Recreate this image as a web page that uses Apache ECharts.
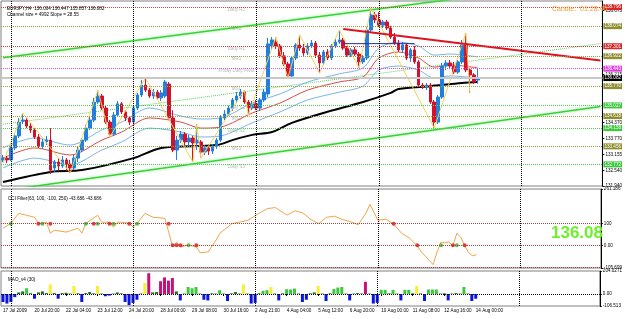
<!DOCTYPE html>
<html>
<head>
<meta charset="utf-8">
<script src="https://cdn.jsdelivr.net/npm/echarts@6/dist/echarts.min.js"></script>
</head>
<body style="margin:0;background-color:#fff">
<div id="main" style="width:625px;height:319px;"></div>
<script type="text/javascript">
// EURJPY H4 candles: [open, close, low, high]
var candles = [
 [132.94,133.01,132.86,133.13],[133.01,132.94,132.82,133.09],[132.94,133.40,132.90,133.47],[133.40,133.86,133.32,133.97],
 [133.86,134.39,133.78,134.55],[134.43,134.47,134.32,134.74],[134.47,134.24,134.16,134.55],[134.24,134.09,133.97,134.36],
 [134.09,133.82,133.74,134.16],[133.82,133.47,133.40,133.93],[133.47,133.63,133.36,133.74],[133.63,133.70,133.51,133.86],
 [133.70,132.55,132.40,134.16],[132.63,132.86,132.48,132.94],[132.86,132.71,132.55,133.01],[132.71,132.94,132.63,133.09],
 [132.94,132.78,132.52,133.01],[132.78,132.63,132.44,132.94],[132.63,133.01,132.55,133.13],[133.01,133.32,132.86,133.44],
 [133.32,133.70,133.24,133.78],[133.70,134.16,133.63,134.28],[134.16,134.47,134.09,134.59],[134.47,135.16,134.39,135.32],
 [135.16,135.39,135.09,135.62],[135.39,134.93,134.85,135.47],[134.93,134.39,134.32,135.01],[134.39,133.93,133.82,134.47],
 [133.93,134.66,133.86,134.78],[134.66,135.09,134.59,135.20],[135.09,134.78,134.70,135.16],[134.78,134.55,134.43,134.85],
 [134.55,134.39,134.28,134.62],[134.39,134.93,134.32,135.01],[134.93,135.43,134.85,135.51],[135.43,135.81,135.35,136.01],
 [135.81,135.62,135.54,136.08],[135.62,135.39,135.32,135.70],[135.39,135.54,135.28,135.66],[135.54,135.32,135.24,135.62],
 [135.32,135.51,135.20,135.62],[135.39,135.93,135.32,136.01],[135.85,134.55,134.47,135.93],[134.55,133.32,133.24,134.85],
 [133.32,133.70,132.94,133.86],[133.70,133.93,133.59,134.05],[133.93,133.63,133.51,134.01],[133.63,133.78,133.47,133.90],
 [133.78,133.59,132.86,133.86],[133.59,133.70,133.32,134.32],[133.63,133.24,133.01,133.70],[133.24,133.40,133.13,133.51],
 [133.40,133.28,133.13,133.47],[133.28,133.47,133.17,133.55],[133.47,133.70,133.36,133.78],[133.70,134.55,133.63,134.66],
 [134.55,134.70,134.47,134.85],[134.70,134.93,134.62,135.01],[134.93,135.24,134.82,135.32],[135.24,135.39,135.12,135.55],
 [135.39,135.54,135.28,135.66],[135.54,135.16,135.09,135.62],[135.16,134.93,134.66,135.24],[134.93,135.09,134.85,135.20],
 [135.09,134.93,134.85,135.24],[134.93,135.24,134.82,135.32],[135.24,135.54,135.16,135.66],[135.47,137.39,135.35,137.62],
 [137.31,137.54,137.16,137.65],[137.46,137.31,137.19,137.65],[137.31,136.93,136.85,137.39],[136.93,136.62,136.54,137.08],
 [136.62,136.16,136.08,136.70],[136.16,136.85,136.08,136.93],[136.85,137.35,136.77,137.42],[137.35,137.23,137.12,137.73],
 [137.23,137.04,136.93,137.39],[137.04,137.31,136.96,137.42],[137.31,137.42,137.23,137.54],[137.42,136.96,136.85,137.50],
 [136.96,136.66,136.27,137.08],[136.66,137.08,136.58,137.16],[137.08,136.85,136.77,137.19],[136.85,137.31,136.77,137.39],
 [137.31,137.46,137.23,137.58],[137.46,137.54,137.39,137.92],[137.54,137.23,137.16,137.62],[137.23,136.96,136.89,137.31],
 [136.96,137.16,136.89,137.23],[137.16,137.00,136.93,137.27],[137.00,136.70,136.47,137.08],[136.70,136.85,136.62,136.96],
 [136.85,137.92,136.77,138.04],[137.92,138.50,137.85,138.77],[138.50,138.31,138.19,138.61],[138.31,138.11,138.04,138.61],
 [138.11,138.23,138.00,138.31],[138.23,138.00,137.92,138.31],[138.00,137.65,137.58,138.08],[137.65,137.42,137.35,137.81],
 [137.42,137.16,137.08,137.54],[137.16,137.35,137.04,137.46],[137.35,136.85,136.77,137.42],[136.85,137.16,136.70,137.23],
 [137.16,136.70,136.62,137.31],[136.70,135.81,135.74,136.77],[135.81,135.74,135.66,135.89],[135.74,135.81,135.62,135.89],
 [135.81,135.16,135.09,135.89],[135.16,134.39,134.16,135.24],[134.39,135.35,134.32,135.43],[135.35,136.54,135.28,136.66],
 [136.54,136.66,136.39,136.77],[136.66,136.54,136.47,136.77],[136.54,136.31,136.24,136.70],[136.31,136.70,136.24,136.77],
 [136.70,137.35,136.62,137.54],[137.35,136.39,136.31,137.81],[136.39,136.20,135.51,136.47],[136.20,135.93,135.85,136.27],
 [136.004,136.082,135.857,136.447]
];
var totalSlots = 152;

// moving averages read at sample bars
var maBars = [0,8,17,25,30,37,45,50,55,63,70,77,85,91,95,100,105,109,113,120];
var maRed = [133.01,133.40,133.13,133.70,134.01,134.55,134.39,134.16,134.20,134.74,135.12,135.62,135.93,136.12,136.85,137.08,136.85,136.50,136.58,136.47];
var maBlueUp = [133.40,133.78,133.51,134.09,134.39,134.93,134.62,134.51,134.55,135.12,135.47,135.93,136.24,136.47,137.23,137.46,137.31,136.96,137.00,136.89];
var maBlueDn = [132.63,133.01,132.75,133.32,133.63,134.16,134.01,133.82,133.86,134.36,134.78,135.24,135.54,135.77,136.39,136.54,136.39,136.08,136.16,136.08];
var maSlowBars = [0,12,20,33,40,54,58,63,68,73,81,91,98,100,108,116,120];
var maSlow = [132.09,132.48,132.55,133.01,133.40,133.51,133.70,133.90,134.01,134.36,134.74,135.16,135.51,135.66,135.77,135.89,135.93];

// zigzag pivots
var zzBars = [0,5,17,24,27,36,48,49,50,61,62,69,72,75,80,85,90,93,109,117,118];
var zzVals = [132.82,134.74,132.44,135.62,133.82,136.08,132.86,134.32,133.01,135.62,134.66,137.65,136.08,137.73,136.27,137.92,136.47,138.77,134.16,137.81,135.51];

// channel and trend lines (end points)
var chanUpper = [[0,136.86],[151,139.84]];
var chanLower = [[0,131.76],[151,134.99]];
var chanMid = [[0,134.31],[151,137.40]];
var trendRed = [[86,137.96],[151,136.75]];
var navyLine = [[86,137.40],[104,137.40]];

// pivot levels
var levelNames = ['Daily R2','MR2','Daily R1','MR1','Friday Daily Pivot','MS1','Daily S1','MS2','Daily S2','MS3','Daily S3'];
var levelValues = [138.796,138.074,137.301,136.922,136.443,135.770,135.027,134.618,134.158,133.456,132.772];
var levelKinds = ['res','mid','res','mid','pivot','mid','sup','mid','sup','mid','sup'];
var bidPrice = 136.082;
var priceTicks = [131.94,132.54,133.155,133.77,134.37,136.215,138.675];

// period separators
var sepBars = [2,33,64,95,131];

// time axis labels
var timeTickBars = [0,8,16,24,32,40,48,56,64,72,80,88,96,104,112,120];
var timeTickText = ['17 Jul 2009','20 Jul 20:00','22 Jul 04:00','23 Jul 12:00','24 Jul 20:00','28 Jul 00:00','29 Jul 08:00','30 Jul 16:00','2 Aug 21:00','4 Aug 04:00','5 Aug 12:00','6 Aug 20:00','10 Aug 00:00','11 Aug 08:00','12 Aug 16:00','14 Aug 00:00'];

// CCI filter
var cciBars = [0,2,4,6,8,9,10,11,12,13,16,19,20,21,24,25,27,28,29,30,32,33,34,36,38,41,42,43,44,45,47,49,50,52,54,55,58,62,65,67,69,72,74,76,78,80,82,84,86,88,90,92,93,95,97,99,101,103,105,106,109,110,111,112,113,114,115,116,117,118,119,120];
var cciVals = [79,102,148,139,130,102,102,107,56,70,61,79,56,102,139,107,107,84,107,107,102,84,102,148,130,125,60,-8,15,-8,1,-8,-35,-31,24,56,100,115,150,170,175,140,160,150,120,100,130,135,120,110,95,150,190,116,121,98,56,33,-3,-31,-90,-31,15,11,15,-3,56,38,-3,-35,-49,-44];
var cciRedDots = [[9,100],[12,100],[23,100],[27,100],[32,100],[42,100],[99,100],[43,0],[44,0],[45,0],[49,0],[105,0],[114,0],[117,0]];
var cciGreenDots = [[2,100],[10,100],[21,100],[24,100],[28,100],[34,100],[47,0],[111,0],[115,0]];
var cciLevels = [100,0,-100];
var cciTicks = [261.186,100,0,-105.699];
var cciTickText = ['261.186','100','0.00','-105.699'];

// MAO_v4 histogram
var maoVals = [-71,-85,-71,-28,14,23,51,6,-42,14,23,8,85,8,-42,8,11,4,71,6,-71,8,17,6,71,4,-20,-14,4,14,6,-71,-99,-79,-51,4,99,184,14,17,113,147,119,142,23,-57,4,62,51,62,4,-51,-57,6,4,34,4,-62,6,17,4,85,4,-85,-79,6,28,34,62,4,-57,6,42,40,48,4,-71,-51,6,14,71,4,-62,6,45,57,62,4,-57,4,8,4,108,4,-85,-79,37,37,6,37,4,-57,37,37,6,71,4,-62,40,40,40,4,6,-57,4,8,4,62,4,-62,-42];
var maoState = [];
var maoYellow = [12,18,24,36,61,68,80,105];
var maoMagenta = [37,40,41,42,43,92];
var maoTicks = [204.0271,0,-106.513];
var maoTickText = ['204.0271','0.00','-106.513'];

var myChart = echarts.init(document.getElementById('main'));

var stateColor = {neg:'#0a14e6', pos:'#3cc83c', weak:'#1f6e1f', yel:'#f5f032', mag:'#c8107a'};
for (var i = 0; i < maoVals.length; i++) {
  var s = maoVals[i] < 0 ? 'neg' : (maoVals[i] < 25 ? 'weak' : 'pos');
  if (maoYellow.indexOf(i) >= 0) s = 'yel';
  if (maoMagenta.indexOf(i) >= 0) s = 'mag';
  maoState.push(s);
}
var kindColor = {res:'#d42a2a', mid:'#8f8f32', pivot:'#e040e0', sup:'#3cc83c'};
var kindLine = {res:'#d04040', mid:'#a0a040', pivot:'#e050e0', sup:'#50cc50'};

var cats = [];
for (var k = 0; k < totalSlots; k++) cats.push(String(k));

function pairs(bars, vals) {
  var out = [];
  for (var i = 0; i < bars.length; i++) out.push([bars[i], vals[i]]);
  return out;
}
function nearestText(v, ticks, texts) {
  var best = 0;
  for (var i = 1; i < ticks.length; i++) if (Math.abs(ticks[i] - v) < Math.abs(ticks[best] - v)) best = i;
  return texts[best];
}

var smallFont = 4.6;
var fontName = 'Liberation Sans';

var sepLines = sepBars.map(function (b) { return {xAxis: b}; });
var sepStyle = {color:'#000', type:'dotted', width:1};

var levelMarks = levelValues.map(function (v, i) {
  var c = kindColor[levelKinds[i]];
  return {
    yAxis: v,
    lineStyle: {color: kindLine[levelKinds[i]], type: 'dotted', width: 1},
    label: {show: true, position: 'end', distance: 1, formatter: v.toFixed(3),
      backgroundColor: c, color: '#fff', padding: [1, 1, 0, 1], fontSize: smallFont, fontFamily: fontName}
  };
});
levelMarks.push({
  yAxis: bidPrice,
  lineStyle: {color:'#c8c8c8', type:'solid', width:2},
  label: {show: true, position: 'end', distance: 1, formatter: bidPrice.toFixed(3),
    backgroundColor: '#000', color: '#fff', padding: [1, 1, 0, 1], fontSize: smallFont, fontFamily: fontName}
});

function xAx(idx, showLabels) {
  return {
    type: 'category', gridIndex: idx, data: cats, boundaryGap: true,
    axisLine: {show: false},
    axisTick: {show: showLabels, alignWithLabel: true, length: 2, lineStyle: {color:'#000'},
      interval: function (i) { return timeTickBars.indexOf(i) >= 0; }},
    axisLabel: {show: showLabels, align: 'left', margin: 2, fontSize: smallFont, color: '#000', fontFamily: fontName,
      interval: function (i) { return timeTickBars.indexOf(i) >= 0; },
      formatter: function (v) { var j = timeTickBars.indexOf(Number(v)); return j >= 0 ? timeTickText[j] : ''; }},
    splitLine: {show: false}
  };
}
function yAx(idx, mn, mx, ticks, texts) {
  return {
    type: 'value', gridIndex: idx, position: 'right', min: mn, max: mx, scale: true,
    axisLine: {show: true, lineStyle: {color:'#000'}},
    axisTick: {show: true, length: 2, customValues: ticks, lineStyle: {color:'#000'}},
    axisLabel: {show: true, customValues: ticks, margin: 3, fontSize: smallFont, color: '#000', fontFamily: fontName,
      formatter: function (v) { return texts ? nearestText(v, ticks, texts) : Number(v).toFixed(3); }},
    splitLine: {show: false}
  };
}

var option = {
  animation: false,
  backgroundColor: '#fff',
  textStyle: {fontFamily: fontName},
  title: [
    {text: 'EURJPY,H4  136.004 136.447 135.857 136.082', left: 2, top: 1, textStyle: {fontSize: smallFont, fontWeight: 'normal', color: '#000'}},
    {text: 'Channel size = 4992 Slope = 28.55', left: 2, top: 7, textStyle: {fontSize: smallFont, fontWeight: 'normal', color: '#000'}},
    {text: 'Candle:  01:28:40', left: 547, top: 1, textStyle: {fontSize: 7, fontWeight: 'normal', color: '#f0a030'}},
    {text: 'CCI Filter(63, 100, -100, 250) -43.686 -43.686', left: 3, top: 191, textStyle: {fontSize: smallFont, fontWeight: 'normal', color: '#000'}},
    {text: '136.08', left: 546, top: 220, textStyle: {fontSize: 17, fontWeight: 'bold', color: '#6cf02c'}},
    {text: 'MAO_v4 (30)', left: 3, top: 272, textStyle: {fontSize: smallFont, fontWeight: 'normal', color: '#000'}}
  ],
  grid: [
    {left: 1, right: 22, top: 1, height: 185, show: true, borderColor: '#808080', borderWidth: 1, backgroundColor: '#fff'},
    {left: 1, right: 22, top: 189, height: 79, show: true, borderColor: '#808080', borderWidth: 1},
    {left: 1, right: 22, top: 271, height: 35, show: true, borderColor: '#808080', borderWidth: 1}
  ],
  xAxis: [xAx(0, false), xAx(1, false), xAx(2, true)],
  yAxis: [
    yAx(0, 131.94, 139.035, priceTicks, null),
    yAx(1, -105.699, 261.186, cciTicks, cciTickText),
    yAx(2, -106.513, 204.0271, maoTicks, maoTickText)
  ],
  series: [
    {type: 'line', xAxisIndex: 0, yAxisIndex: 0, data: [], z: 1, silent: true,
      markLine: {symbol: ['none', 'none'], silent: true, animation: false, data: levelMarks.concat(sepLines.map(function (d) { return {xAxis: d.xAxis, lineStyle: sepStyle, label: {show: false}}; }))}},
    {type: 'scatter', xAxisIndex: 0, yAxisIndex: 0, symbolSize: 0, z: 1, silent: true,
      data: levelValues.map(function (v, i) { return [59, v, levelNames[i]]; }),
      label: {show: true, position: 'bottom', distance: 0, color: '#a8a8a8', fontSize: smallFont, fontFamily: fontName,
        formatter: function (p) { return p.data[2]; }}},
    {type: 'line', xAxisIndex: 0, yAxisIndex: 0, data: chanUpper, symbol: 'none', z: 2,
      lineStyle: {color: '#36d236', width: 1.5, shadowColor: 'rgba(120,240,120,0.8)', shadowBlur: 3}},
    {type: 'line', xAxisIndex: 0, yAxisIndex: 0, data: chanLower, symbol: 'none', z: 2,
      lineStyle: {color: '#36d236', width: 1.5, shadowColor: 'rgba(120,240,120,0.8)', shadowBlur: 3}},
    {type: 'line', xAxisIndex: 0, yAxisIndex: 0, data: chanMid, symbol: 'none', z: 2,
      lineStyle: {color: '#5ad25a', width: 1, type: 'dotted'}},
    {type: 'line', xAxisIndex: 0, yAxisIndex: 0, data: pairs(maBars, maBlueUp), symbol: 'none', smooth: 0.3, z: 2,
      lineStyle: {color: '#7ab4e6', width: 1}},
    {type: 'line', xAxisIndex: 0, yAxisIndex: 0, data: pairs(maBars, maBlueDn), symbol: 'none', smooth: 0.3, z: 2,
      lineStyle: {color: '#7ab4e6', width: 1}},
    {type: 'line', xAxisIndex: 0, yAxisIndex: 0, data: pairs(maBars, maRed), symbol: 'none', smooth: 0.3, z: 2,
      lineStyle: {color: '#d84a4a', width: 1}},
    {type: 'line', xAxisIndex: 0, yAxisIndex: 0, data: pairs(maSlowBars, maSlow), symbol: 'none', smooth: 0.3, z: 2,
      lineStyle: {color: '#000', width: 2}},
    {type: 'candlestick', xAxisIndex: 0, yAxisIndex: 0, data: candles, barWidth: 3, z: 3,
      itemStyle: {color: '#1e7fe0', color0: '#d4102a', borderColor: '#1e7fe0', borderColor0: '#d4102a', borderWidth: 1}},
    {type: 'line', xAxisIndex: 0, yAxisIndex: 0, data: pairs(zzBars, zzVals), symbol: 'none', z: 4,
      lineStyle: {color: '#f2d25a', width: 1}},
    {type: 'line', xAxisIndex: 0, yAxisIndex: 0, data: trendRed, symbol: 'none', z: 4,
      lineStyle: {color: '#e0141e', width: 2}},
    {type: 'line', xAxisIndex: 0, yAxisIndex: 0, data: navyLine, symbol: 'none', z: 4,
      lineStyle: {color: '#24309c', width: 1}},

    {type: 'line', xAxisIndex: 1, yAxisIndex: 1, data: pairs(cciBars, cciVals), symbol: 'none', z: 3,
      lineStyle: {color: '#f0a64a', width: 1},
      markLine: {symbol: ['none', 'none'], silent: true, animation: false, label: {show: false},
        data: cciLevels.map(function (v) { return {yAxis: v, lineStyle: {color: '#b03a3a', type: 'dotted', width: 1}}; })
          .concat(sepLines.map(function (d) { return {xAxis: d.xAxis, lineStyle: sepStyle}; }))}},
    {type: 'scatter', xAxisIndex: 1, yAxisIndex: 1, data: cciRedDots, symbolSize: 4, z: 4, itemStyle: {color: '#dd1010'}},
    {type: 'scatter', xAxisIndex: 1, yAxisIndex: 1, data: cciGreenDots, symbolSize: 4, z: 4, itemStyle: {color: '#2ab82a'}},

    {type: 'bar', xAxisIndex: 2, yAxisIndex: 2, barWidth: 3, z: 3,
      data: maoVals.map(function (v, i) { return {value: v, itemStyle: {color: stateColor[maoState[i]]}}; }),
      markLine: {symbol: ['none', 'none'], silent: true, animation: false, label: {show: false},
        data: [{yAxis: 0, lineStyle: {color: '#000', type: 'dotted', width: 1}}]
          .concat(sepLines.map(function (d) { return {xAxis: d.xAxis, lineStyle: sepStyle}; }))}}
  ]
};
myChart.setOption(option);
</script>
</body>
</html>
